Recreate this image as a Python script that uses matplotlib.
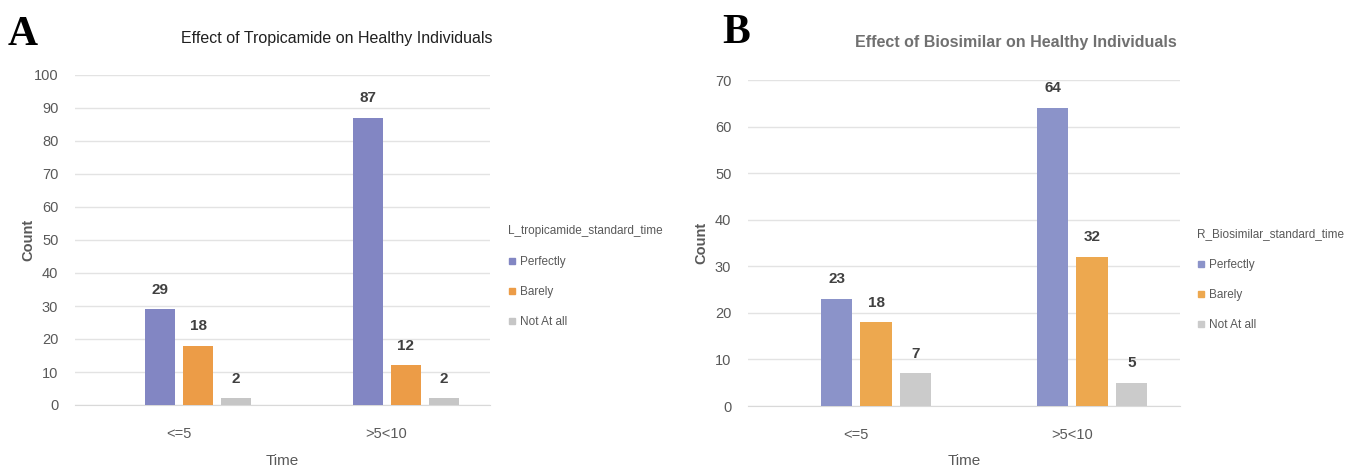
import numpy as np
import matplotlib
matplotlib.use('Agg')
import matplotlib.pyplot as plt
from matplotlib.lines import Line2D

plt.rcParams['font.family'] = ['Liberation Sans', 'DejaVu Sans']

times = ['<=5', '>5<10']
responses = ['Perfectly', 'Barely', 'Not At all']

tropicamide_perfectly = [29, 87]
tropicamide_barely = [18, 12]
tropicamide_not_at_all = [2, 2]

biosimilar_perfectly = [23, 64]
biosimilar_barely = [18, 32]
biosimilar_not_at_all = [7, 5]

colors_a = ['#8286C3', '#EC9C47', '#C6C6C6']
colors_b = ['#8B93C9', '#EDA84F', '#CBCBCB']

W, H = 1359, 472


def fx(px):
	return px / W


def fy(py):
	return 1 - py / H


def panel(rect, series, colors, ymax, title, title_xy, title_style, legend_title, legend_xy):
	left, bottom, right, top = rect
	ax = fig.add_axes([left / W, bottom / H, (right - left) / W, (top - bottom) / H])
	x = np.arange(len(times))
	offsets = [-0.09, 0.093, 0.277]
	for vals, off, c in zip(series, offsets, colors):
		bars = ax.bar(x + off, vals, width=0.145, color=c, zorder=3)
		for b, v in zip(bars, vals):
			ax.annotate(str(v), (b.get_x() + b.get_width() / 2, v),
						xytext=(0, 9), textcoords='offset points', ha='center', va='bottom',
						fontsize=11, color='#404040', fontweight='bold')
	ax.set_xlim(-0.5, 1.5)
	ax.set_ylim(0, ymax)
	ax.set_yticks(np.arange(0, ymax + 1, 10))
	ax.set_xticks(x)
	ax.set_xticklabels(times)
	ax.tick_params(length=0, labelsize=10.5, labelcolor='#595959')
	ax.tick_params(axis='x', pad=16)
	ax.tick_params(axis='y', pad=12)
	ax.grid(axis='y', color='#E3E3E3', linewidth=1, zorder=0)
	for s in ['top', 'right', 'left']:
		ax.spines[s].set_visible(False)
	ax.spines['bottom'].set_color('#D9D9D9')

	fig.text(fx(title_xy[0]), fy(title_xy[1]), title, ha='center', va='center', fontsize=11.5, **title_style)
	# axis titles sit at fixed figure positions
	fig.text(fx(left - 47), (bottom + top) / 2 / H, 'Count',
			 rotation=90, ha='center', va='center', fontsize=10.5, fontweight='bold', color='#595959')
	fig.text(fx((left + right) / 2), fy(461), 'Time', ha='center', va='center', fontsize=11, color='#595959')

	handles = [Line2D([], [], marker='s', linestyle='none', markersize=5, color=c) for c in colors]
	lg = fig.legend(handles, responses, title=legend_title, loc='upper left',
					bbox_to_anchor=(fx(legend_xy[0]), fy(legend_xy[1])), frameon=False,
					fontsize=8.5, title_fontsize=8.5, labelcolor='#595959', handlelength=0.7,
					handletextpad=0.3, labelspacing=1.5, alignment='left', borderaxespad=0,
					borderpad=0)
	lg.get_title().set_color('#595959')
	lg._legend_box.sep = 14
	return ax


fig = plt.figure(figsize=(W / 100, H / 100), dpi=100)

panel((75, 67, 490, 397),
	  [tropicamide_perfectly, tropicamide_barely, tropicamide_not_at_all],
	  colors_a, 100, 'Effect of Tropicamide on Healthy Individuals', (337, 38),
	  dict(color='#202020'),
	  'L_tropicamide_standard_time', (508, 225))
panel((748, 66, 1180, 392),
	  [biosimilar_perfectly, biosimilar_barely, biosimilar_not_at_all],
	  colors_b, 70, 'Effect of Biosimilar on Healthy Individuals', (1016, 42),
	  dict(color='#707070', fontweight='bold'),
	  'R_Biosimilar_standard_time', (1197, 228))

fig.text(fx(8), fy(35), 'A', fontsize=30, fontweight='bold', family='Liberation Serif', va='center')
fig.text(fx(722), fy(33), 'B', fontsize=30, fontweight='bold', family='Liberation Serif', va='center')

fig.savefig('out.png', dpi=100)
